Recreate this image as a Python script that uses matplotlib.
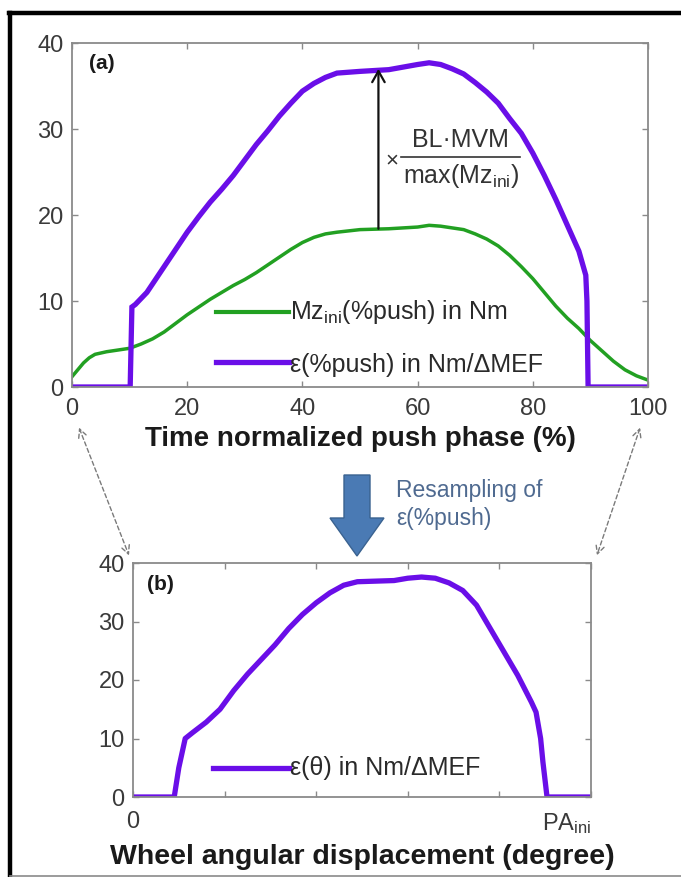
import matplotlib

matplotlib.use("Agg")
import matplotlib.pyplot as plt  # noqa: E402
from matplotlib.patches import FancyArrow, FancyArrowPatch  # noqa: E402
from matplotlib.lines import Line2D  # noqa: E402

plt.rcParams["font.family"] = ["Liberation Sans", "DejaVu Sans"]
plt.rcParams["mathtext.fontset"] = "custom"
plt.rcParams["mathtext.rm"] = "Liberation Sans"
plt.rcParams["mathtext.it"] = "Liberation Sans"

# (a) time normalized push phase (%)
mz_x = [0, 1, 2, 3, 4, 6, 8, 10, 12, 14, 16, 18, 20, 22, 24, 26, 28, 30, 32, 34,
        36, 38, 40, 42, 44, 46, 50, 55, 60, 62, 64, 66, 68, 70, 72, 74, 76, 78,
        80, 82, 84, 86, 88, 90, 92, 94, 96, 98, 100]
mz_y = [1.2, 2.0, 2.8, 3.4, 3.8, 4.1, 4.3, 4.5, 5.0, 5.6, 6.4, 7.4, 8.4, 9.3,
        10.2, 11.0, 11.8, 12.5, 13.3, 14.2, 15.1, 16.0, 16.8, 17.4, 17.8, 18.0,
        18.3, 18.4, 18.6, 18.8, 18.7, 18.5, 18.3, 17.8, 17.2, 16.4, 15.3, 14.0,
        12.6, 11.0, 9.4, 8.0, 6.8, 5.4, 4.2, 3.0, 2.0, 1.3, 0.8]

eps_x = [0, 10.1, 10.4, 11, 12, 13, 14, 16, 18, 20, 22, 24, 26, 28, 30, 32, 34,
         36, 38, 40, 42, 44, 46, 50, 55, 60, 62, 64, 66, 68, 70, 72, 74, 76, 78,
         80, 82, 84, 86, 88, 89.2, 89.4, 89.6, 100]
eps_y = [0, 0, 9.3, 9.6, 10.3, 11.0, 12.0, 14.0, 16.0, 18.0, 19.8, 21.5, 23.0,
         24.6, 26.4, 28.2, 29.8, 31.5, 33.0, 34.4, 35.3, 36.0, 36.5, 36.7, 36.9,
         37.5, 37.7, 37.5, 37.0, 36.4, 35.4, 34.3, 33.0, 31.2, 29.5, 27.2, 24.6,
         21.8, 18.8, 15.8, 13.0, 10.0, 0, 0]

# (b) wheel angular displacement (fraction of PA_ini)
theta_x = [0, 0.09, 0.100, 0.114, 0.13, 0.16, 0.19, 0.22, 0.25, 0.28, 0.31, 0.34,
           0.37, 0.40, 0.43, 0.46, 0.49, 0.53, 0.57, 0.60, 0.63, 0.66, 0.69, 0.72,
           0.75, 0.78, 0.81, 0.84, 0.87, 0.88, 0.89, 0.895, 0.904, 1.0]
theta_y = [0, 0, 5, 10, 11, 12.8, 15, 18.2, 21, 23.5, 26, 28.8, 31.2, 33.2, 34.9,
           36.2, 36.8, 36.9, 37.0, 37.4, 37.6, 37.4, 36.6, 35.3, 32.8, 28.8, 24.8,
           20.8, 16.2, 14.5, 10, 6, 0, 0]

x_ticks_a = [0, 20, 40, 60, 80, 100]
y_ticks = [0, 10, 20, 30, 40]
x_ticks_b = [0, 0.2, 0.4, 0.6, 0.8, 1.0]
x_labels_b = ["0", "", "", "", "", r"PA$_{\mathregular{ini}}$"]

GREEN = "#22a022"
PURPLE = "#6a0ee8"
SPINE = "#8a8a8a"
TICKTXT = "#3a3a3a"

W, H = 681, 877
fig = plt.figure(figsize=(W / 100, H / 100), dpi=100)
fig.patch.set_facecolor("white")


def fx(x):
    return x / W


def fy(y):
    return 1 - y / H


def style_axes(ax, xpad):
    for spine in ax.spines.values():
        spine.set_color(SPINE)
        spine.set_linewidth(1.3)
    ax.tick_params(direction="in", length=4, width=1, color=SPINE,
                   top=True, right=True, labelsize=17, labelcolor=TICKTXT, pad=6)
    ax.tick_params(axis="x", pad=xpad)


ax1 = fig.add_axes([fx(72), fy(387), fx(648) - fx(72), fy(43) - fy(387)])
ax1.plot(mz_x, mz_y, color=GREEN, lw=2.5)
ax1.plot(eps_x, eps_y, color=PURPLE, lw=3.8, solid_joinstyle="miter")
ax1.set_xlim(0, 100)
ax1.set_ylim(0, 40)
ax1.set_xticks(x_ticks_a)
ax1.set_yticks(y_ticks)
style_axes(ax1, 8)
ax1.set_xlabel("Time normalized push phase (%)", fontsize=20, fontweight="bold",
               color="#1a1a1a", labelpad=4)
ax1.text(0.03, 0.94, "(a)", transform=ax1.transAxes, fontsize=15,
         fontweight="bold", color="#1a1a1a", va="center")

# scaling arrow
ax1.annotate("", xy=(53.2, 37.0), xytext=(53.2, 18.4),
             arrowprops=dict(arrowstyle="->,head_length=0.8,head_width=0.45",
                             color="#111111", lw=1.6, shrinkA=0, shrinkB=0))
ax1.text(54.4, 26.3, "×", fontsize=16, color="#333333", va="center", ha="left")
ax1.text(67.5, 28.7, "BL·MVM", fontsize=18, color="#333333", va="center", ha="center")
ax1.add_line(Line2D([57.2, 77.8], [26.8, 26.8], color="#333333", lw=1.2))
ax1.text(67.5, 24.5, r"max(Mz$_{\mathregular{ini}}$)", fontsize=18, color="#333333",
         va="center", ha="center")

# legend (a)
ax1.add_line(Line2D([0.25, 0.377], [0.218, 0.218], transform=ax1.transAxes,
                    color=GREEN, lw=3.0))
ax1.text(0.379, 0.218, r"Mz$_{\mathregular{ini}}$(%push) in Nm", transform=ax1.transAxes,
         fontsize=18, color="#2a2a2a", va="center")
ax1.add_line(Line2D([0.25, 0.377], [0.073, 0.073], transform=ax1.transAxes,
                    color=PURPLE, lw=3.8))
ax1.text(0.379, 0.065, "ε(%push) in Nm/ΔMEF", transform=ax1.transAxes,
         fontsize=18, color="#2a2a2a", va="center")

ax2 = fig.add_axes([fx(133), fy(797), fx(591) - fx(133), fy(563) - fy(797)])
ax2.plot(theta_x, theta_y, color=PURPLE, lw=3.8)
ax2.set_xlim(0, 1)
ax2.set_ylim(0, 40)
ax2.set_xticks(x_ticks_b)
ax2.set_xticklabels(x_labels_b)
ax2.set_yticks(y_ticks)
style_axes(ax2, 10)
ax2.get_xticklabels()[-1].set_horizontalalignment("right")
ax2.set_xlabel("Wheel angular displacement (degree)", fontsize=20.5, fontweight="bold",
               color="#1a1a1a", labelpad=6)
ax2.text(0.03, 0.91, "(b)", transform=ax2.transAxes, fontsize=15,
         fontweight="bold", color="#1a1a1a", va="center")
ax2.add_line(Line2D([0.175, 0.34], [0.124, 0.124], transform=ax2.transAxes,
                    color=PURPLE, lw=3.8))
ax2.text(0.343, 0.124, "ε(θ) in Nm/ΔMEF", transform=ax2.transAxes,
         fontsize=18, color="#2a2a2a", va="center")

# resampling arrow
fig.add_artist(FancyArrow(fx(357), fy(475), 0, fy(556) - fy(475), width=fx(26),
                          head_width=fx(54), head_length=fy(518) - fy(556),
                          length_includes_head=True, transform=fig.transFigure,
                          facecolor="#4a7ab4", edgecolor="#3a6290", lw=1))
fig.text(fx(396), fy(490), "Resampling of", fontsize=16.5, color="#4f6a90", va="center")
fig.text(fx(396), fy(518), "ε(%push)", fontsize=16.5, color="#4f6a90", va="center")

# dashed correspondence arrows
for a, b in [((78, 425), (130, 558)), ((641, 425), (596, 558))]:
    fig.add_artist(FancyArrowPatch((fx(a[0]), fy(a[1])), (fx(b[0]), fy(b[1])),
                                   transform=fig.transFigure,
                                   arrowstyle="<->,head_length=6,head_width=3",
                                   linestyle=(0, (3, 2)), color="#7a7a7a", lw=1.0))

# frame
fig.add_artist(Line2D([fx(10), fx(10)], [fy(13), fy(877)], transform=fig.transFigure,
                      color="black", lw=3.2))
fig.add_artist(Line2D([fx(9), fx(681)], [fy(13), fy(13)], transform=fig.transFigure,
                      color="black", lw=3.2))
fig.add_artist(Line2D([fx(10), fx(681)], [fy(875.5), fy(875.5)], transform=fig.transFigure,
                      color="#8a8a8a", lw=1.2))

fig.savefig("out.png", dpi=100, facecolor="white")
